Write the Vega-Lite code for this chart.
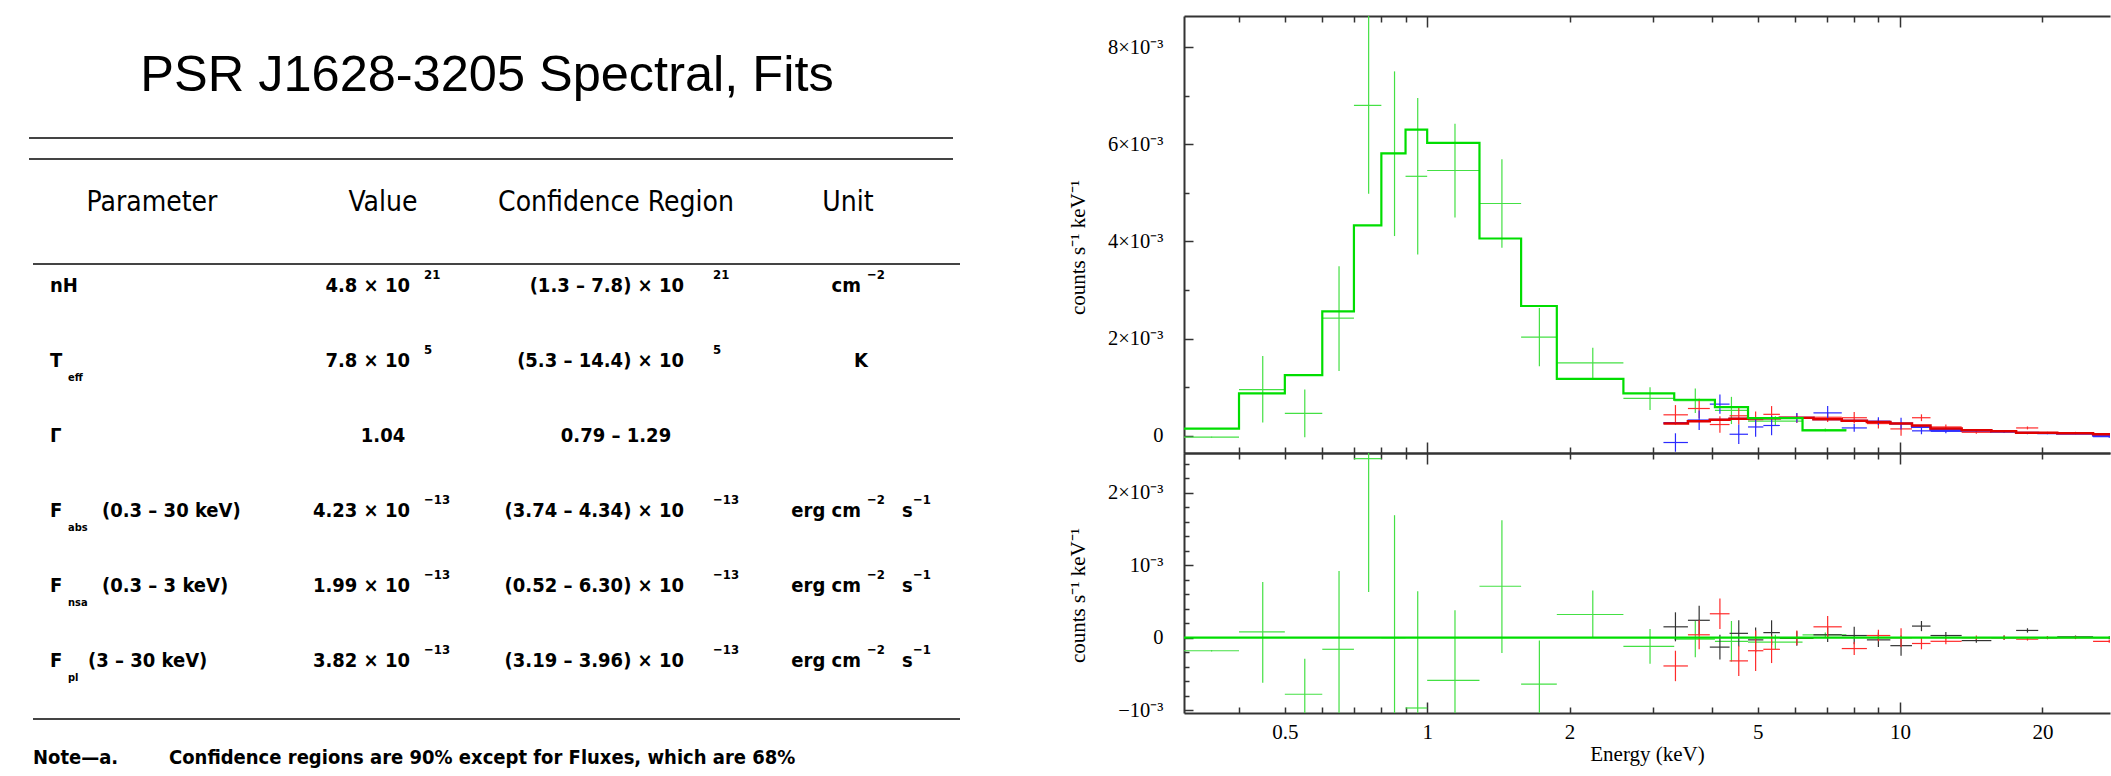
{
  "$schema": "https://vega.github.io/schema/vega-lite/v6.json",
  "background": "white",
  "padding": {"left": 0, "top": 15, "right": 0, "bottom": 0},
  "bounds": "flush",
  "spacing": 184,
  "config": {
    "view": {"stroke": null},
    "axis": {"grid": false, "labelFont": "Liberation Serif", "titleFont": "Liberation Serif", "labelColor": "#000", "titleColor": "#000", "labelFontSize": 20.5, "titleFontSize": 21, "titleFontWeight": "normal", "domainColor": "#333", "domainWidth": 2, "tickColor": "#333", "tickWidth": 1.5}
  },
  "datasets": {
    "cells": [
      {"row": 0, "col": 11, "kind": "title", "text": "PSR J1628-3205 Spectral, Fits"},
      {"row": 3, "col": 6, "kind": "header", "text": "Parameter"},
      {"row": 3, "col": 8, "kind": "header", "text": "Value"},
      {"row": 3, "col": 12, "kind": "header", "text": "Confidence Region"},
      {"row": 3, "col": 15, "kind": "header", "text": "Unit"},
      {"row": 5, "col": 2, "kind": "label", "text": "nH"},
      {"row": 5, "col": 9, "kind": "mantissa", "text": "4.8 × 10"},
      {"row": 5, "col": 10, "kind": "exponent", "text": "21"},
      {"row": 5, "col": 13, "kind": "mantissa", "text": "(1.3 – 7.8) × 10"},
      {"row": 5, "col": 14, "kind": "exponent", "text": "21"},
      {"row": 5, "col": 16, "kind": "mantissa", "text": "cm"},
      {"row": 5, "col": 17, "kind": "exponent", "text": "−2"},
      {"row": 6, "col": 2, "kind": "label", "text": "T"},
      {"row": 6, "col": 3, "kind": "subscript", "text": "eff"},
      {"row": 6, "col": 9, "kind": "mantissa", "text": "7.8 × 10"},
      {"row": 6, "col": 10, "kind": "exponent", "text": "5"},
      {"row": 6, "col": 13, "kind": "mantissa", "text": "(5.3 – 14.4) × 10"},
      {"row": 6, "col": 14, "kind": "exponent", "text": "5"},
      {"row": 6, "col": 16, "kind": "centered", "text": "K"},
      {"row": 7, "col": 2, "kind": "label", "text": "Γ"},
      {"row": 7, "col": 8, "kind": "centered", "text": "1.04"},
      {"row": 7, "col": 12, "kind": "centered", "text": "0.79 – 1.29"},
      {"row": 8, "col": 2, "kind": "label", "text": "F"},
      {"row": 8, "col": 3, "kind": "subscript", "text": "abs"},
      {"row": 8, "col": 5, "kind": "label", "text": "(0.3 – 30 keV)"},
      {"row": 8, "col": 9, "kind": "mantissa", "text": "4.23 × 10"},
      {"row": 8, "col": 10, "kind": "exponent", "text": "−13"},
      {"row": 8, "col": 13, "kind": "mantissa", "text": "(3.74 – 4.34) × 10"},
      {"row": 8, "col": 14, "kind": "exponent", "text": "−13"},
      {"row": 8, "col": 16, "kind": "mantissa", "text": "erg cm"},
      {"row": 8, "col": 17, "kind": "exponent", "text": "−2"},
      {"row": 8, "col": 18, "kind": "label", "text": "s"},
      {"row": 8, "col": 19, "kind": "exponent", "text": "−1"},
      {"row": 9, "col": 2, "kind": "label", "text": "F"},
      {"row": 9, "col": 3, "kind": "subscript", "text": "nsa"},
      {"row": 9, "col": 5, "kind": "label", "text": "(0.3 – 3 keV)"},
      {"row": 9, "col": 9, "kind": "mantissa", "text": "1.99 × 10"},
      {"row": 9, "col": 10, "kind": "exponent", "text": "−13"},
      {"row": 9, "col": 13, "kind": "mantissa", "text": "(0.52 – 6.30) × 10"},
      {"row": 9, "col": 14, "kind": "exponent", "text": "−13"},
      {"row": 9, "col": 16, "kind": "mantissa", "text": "erg cm"},
      {"row": 9, "col": 17, "kind": "exponent", "text": "−2"},
      {"row": 9, "col": 18, "kind": "label", "text": "s"},
      {"row": 9, "col": 19, "kind": "exponent", "text": "−1"},
      {"row": 10, "col": 2, "kind": "label", "text": "F"},
      {"row": 10, "col": 3, "kind": "subscript", "text": "pl"},
      {"row": 10, "col": 4, "kind": "label", "text": "(3 – 30 keV)"},
      {"row": 10, "col": 9, "kind": "mantissa", "text": "3.82 × 10"},
      {"row": 10, "col": 10, "kind": "exponent", "text": "−13"},
      {"row": 10, "col": 13, "kind": "mantissa", "text": "(3.19 – 3.96) × 10"},
      {"row": 10, "col": 14, "kind": "exponent", "text": "−13"},
      {"row": 10, "col": 16, "kind": "mantissa", "text": "erg cm"},
      {"row": 10, "col": 17, "kind": "exponent", "text": "−2"},
      {"row": 10, "col": 18, "kind": "label", "text": "s"},
      {"row": 10, "col": 19, "kind": "exponent", "text": "−1"},
      {"row": 12, "col": 1, "kind": "note", "text": "Note—a."},
      {"row": 12, "col": 7, "kind": "note", "text": "Confidence regions are 90% except for Fluxes, which are 68%"}
    ],
    "rules": [
      {"row": 1, "col": 0, "col2": 20},
      {"row": 2, "col": 0, "col2": 20},
      {"row": 4, "col": 1, "col2": 21},
      {"row": 11, "col": 1, "col2": 21}
    ],
    "green": [
      {"elo": 0.3, "ehi": 0.4, "e": 0.35, "v": -0.00003, "lo": -0.00004, "hi": -0.00002, "res": -0.00018, "rlo": -0.00019, "rhi": -0.00017},
      {"elo": 0.4, "ehi": 0.5, "e": 0.449, "v": 0.00095, "lo": 0.00027, "hi": 0.00164, "res": 0.00008, "rlo": -0.00062, "rhi": 0.00077},
      {"elo": 0.5, "ehi": 0.6, "e": 0.551, "v": 0.00046, "lo": -0.00003, "hi": 0.00095, "res": -0.00078, "rlo": -0.00127, "rhi": -0.00029},
      {"elo": 0.6, "ehi": 0.7, "e": 0.651, "v": 0.00242, "lo": 0.00133, "hi": 0.00349, "res": -0.00016, "rlo": -0.00124, "rhi": 0.00092},
      {"elo": 0.7, "ehi": 0.8, "e": 0.752, "v": 0.0068, "lo": 0.00498, "hi": 0.0087, "res": 0.00247, "rlo": 0.00063, "rhi": 0.0043},
      {"elo": 0.8, "ehi": 0.9, "e": 0.853, "v": 0.00581, "lo": 0.00411, "hi": 0.0075, "res": 0.0, "rlo": -0.0017, "rhi": 0.00169},
      {"elo": 0.9, "ehi": 1.0, "e": 0.955, "v": 0.00534, "lo": 0.00373, "hi": 0.00695, "res": -0.00097, "rlo": -0.00258, "rhi": 0.00064},
      {"elo": 1.0, "ehi": 1.29, "e": 1.145, "v": 0.00546, "lo": 0.00449, "hi": 0.00642, "res": -0.00059, "rlo": -0.00155, "rhi": 0.00038},
      {"elo": 1.29, "ehi": 1.58, "e": 1.439, "v": 0.00478, "lo": 0.00387, "hi": 0.00569, "res": 0.00071, "rlo": -0.00021, "rhi": 0.00162},
      {"elo": 1.58, "ehi": 1.88, "e": 1.727, "v": 0.00203, "lo": 0.00143, "hi": 0.00263, "res": -0.00064, "rlo": -0.00124, "rhi": -0.00004},
      {"elo": 1.88, "ehi": 2.6, "e": 2.24, "v": 0.0015, "lo": 0.00116, "hi": 0.00181, "res": 0.00032, "rlo": 0.0, "rhi": 0.00065},
      {"elo": 2.6, "ehi": 3.33, "e": 2.96, "v": 0.00077, "lo": 0.00053, "hi": 0.001, "res": -0.00012, "rlo": -0.00036, "rhi": 0.00012},
      {"elo": 3.33, "ehi": 4.06, "e": 3.69, "v": 0.00072, "lo": 0.00047, "hi": 0.00097, "res": -0.00002, "rlo": -0.00027, "rhi": 0.00023},
      {"elo": 4.06, "ehi": 4.77, "e": 4.4, "v": 0.00052, "lo": 0.00024, "hi": 0.0008, "res": -0.00005, "rlo": -0.00033, "rhi": 0.00023},
      {"elo": 4.77, "ehi": 6.22, "e": 5.45, "v": 0.0003, "lo": 0.0002, "hi": 0.0004, "res": -0.00006, "rlo": -0.00016, "rhi": 0.00004},
      {"elo": 6.22, "ehi": 7.7, "e": 6.95, "v": 0.00012, "lo": 0.00009, "hi": 0.00015, "res": 0.00004, "rlo": 0.00001, "rhi": 0.00007}
    ],
    "gmodel": [
      {"e": 0.3, "m": 0.000144}, {"e": 0.4, "m": 0.000872}, {"e": 0.5, "m": 0.001249}, {"e": 0.6, "m": 0.00256},
      {"e": 0.7, "m": 0.00433}, {"e": 0.8, "m": 0.00581}, {"e": 0.9, "m": 0.0063}, {"e": 1.0, "m": 0.00603},
      {"e": 1.29, "m": 0.00406}, {"e": 1.58, "m": 0.00267}, {"e": 1.88, "m": 0.00117}, {"e": 2.6, "m": 0.00087},
      {"e": 3.33, "m": 0.00074}, {"e": 4.06, "m": 0.00059}, {"e": 4.77, "m": 0.00036}, {"e": 6.22, "m": 0.00011},
      {"e": 7.7, "m": 0.00011}
    ],
    "hard": [
      {"set": "A", "elo": 3.16, "ehi": 3.56, "e": 3.35, "v": 0.00043, "lo": 0.00023, "hi": 0.00063, "res": 0.00015, "rlo": -0.00005, "rhi": 0.00035},
      {"set": "A", "elo": 3.56, "ehi": 3.96, "e": 3.76, "v": 0.00056, "lo": 0.00036, "hi": 0.00076, "res": 0.00024, "rlo": 0.00004, "rhi": 0.00044},
      {"set": "A", "elo": 3.96, "ehi": 4.36, "e": 4.16, "v": 0.00023, "lo": 0.00006, "hi": 0.0004, "res": -0.00013, "rlo": -0.0003, "rhi": 0.00004},
      {"set": "A", "elo": 4.36, "ehi": 4.77, "e": 4.56, "v": 0.00041, "lo": 0.00023, "hi": 0.00059, "res": 0.00006, "rlo": -0.00012, "rhi": 0.00024},
      {"set": "A", "elo": 4.77, "ehi": 5.14, "e": 4.95, "v": 0.00033, "lo": 0.00016, "hi": 0.0005, "res": -0.00003, "rlo": -0.0002, "rhi": 0.00014},
      {"set": "A", "elo": 5.14, "ehi": 5.57, "e": 5.35, "v": 0.00044, "lo": 0.00027, "hi": 0.00061, "res": 0.00007, "rlo": -0.0001, "rhi": 0.00024},
      {"set": "A", "elo": 5.57, "ehi": 6.56, "e": 6.05, "v": 0.00036, "lo": 0.00026, "hi": 0.00046, "res": -0.00001, "rlo": -0.00011, "rhi": 0.00009},
      {"set": "A", "elo": 6.56, "ehi": 7.53, "e": 7.03, "v": 0.00038, "lo": 0.00028, "hi": 0.00048, "res": 0.00004, "rlo": -0.00006, "rhi": 0.00014},
      {"set": "A", "elo": 7.53, "ehi": 8.51, "e": 8.0, "v": 0.00037, "lo": 0.00025, "hi": 0.00049, "res": 0.00003, "rlo": -0.00009, "rhi": 0.00015},
      {"set": "A", "elo": 8.51, "ehi": 9.54, "e": 9.0, "v": 0.00025, "lo": 0.00015, "hi": 0.00035, "res": -0.00003, "rlo": -0.00013, "rhi": 0.00007},
      {"set": "A", "elo": 9.54, "ehi": 10.6, "e": 10.05, "v": 0.00014, "lo": 0.0, "hi": 0.00028, "res": -0.00011, "rlo": -0.00025, "rhi": 0.00003},
      {"set": "A", "elo": 10.6, "ehi": 11.6, "e": 11.1, "v": 0.00037, "lo": 0.0003, "hi": 0.00044, "res": 0.00016, "rlo": 0.00009, "rhi": 0.00023},
      {"set": "A", "elo": 11.6, "ehi": 13.5, "e": 12.5, "v": 0.00018, "lo": 0.00013, "hi": 0.00023, "res": 0.00003, "rlo": -0.00002, "rhi": 0.00008},
      {"set": "A", "elo": 13.5, "ehi": 15.6, "e": 14.5, "v": 0.00007, "lo": 0.00004, "hi": 0.0001, "res": -0.00004, "rlo": -0.00007, "rhi": -0.00001},
      {"set": "A", "elo": 15.6, "ehi": 17.6, "e": 16.6, "v": 0.00009, "lo": 0.00006, "hi": 0.00012, "res": 0.0, "rlo": -0.00003, "rhi": 0.00003},
      {"set": "A", "elo": 17.6, "ehi": 19.6, "e": 18.6, "v": 0.00016, "lo": 0.00013, "hi": 0.00019, "res": 0.0001, "rlo": 0.00007, "rhi": 0.00013},
      {"set": "A", "elo": 19.6, "ehi": 21.5, "e": 20.5, "v": 0.00006, "lo": 0.00004, "hi": 0.00008, "res": 0.0, "rlo": -0.00002, "rhi": 0.00002},
      {"set": "A", "elo": 21.5, "ehi": 25.6, "e": 23.5, "v": 0.00006, "lo": 0.00004, "hi": 0.00008, "res": 0.00001, "rlo": -0.00001, "rhi": 0.00003},
      {"set": "A", "elo": 25.6, "ehi": 30, "e": 27.7, "v": 0.00003, "lo": 0.00001, "hi": 0.00005, "res": 0.0, "rlo": -0.00002, "rhi": 0.00002},
      {"set": "B", "elo": 3.16, "ehi": 3.56, "e": 3.35, "v": -0.00014, "lo": -0.00033, "hi": 0.00005, "res": -0.00039, "rlo": -0.0006, "rhi": -0.00018},
      {"set": "B", "elo": 3.56, "ehi": 3.96, "e": 3.76, "v": 0.00032, "lo": 0.00012, "hi": 0.00052, "res": 0.00004, "rlo": -0.00016, "rhi": 0.00024},
      {"set": "B", "elo": 3.96, "ehi": 4.36, "e": 4.16, "v": 0.00065, "lo": 0.00045, "hi": 0.00085, "res": 0.00033, "rlo": 0.00012, "rhi": 0.00054},
      {"set": "B", "elo": 4.36, "ehi": 4.77, "e": 4.56, "v": 0.00003, "lo": -0.00017, "hi": 0.00023, "res": -0.00032, "rlo": -0.00053, "rhi": -0.00011},
      {"set": "B", "elo": 4.77, "ehi": 5.14, "e": 4.95, "v": 0.00018, "lo": -0.00002, "hi": 0.00038, "res": -0.00018, "rlo": -0.00046, "rhi": 0.0001},
      {"set": "B", "elo": 5.14, "ehi": 5.57, "e": 5.35, "v": 0.00021, "lo": 0.00001, "hi": 0.00041, "res": -0.00016, "rlo": -0.00035, "rhi": 0.00003},
      {"set": "B", "elo": 5.57, "ehi": 6.56, "e": 6.05, "v": 0.00037, "lo": 0.00027, "hi": 0.00047, "res": 0.0, "rlo": -0.0001, "rhi": 0.0001},
      {"set": "B", "elo": 6.56, "ehi": 7.53, "e": 7.03, "v": 0.00047, "lo": 0.00033, "hi": 0.00061, "res": 0.00015, "rlo": 0.0, "rhi": 0.0003},
      {"set": "B", "elo": 7.53, "ehi": 8.51, "e": 8.0, "v": 0.00016, "lo": 0.00008, "hi": 0.00024, "res": -0.00015, "rlo": -0.00024, "rhi": -0.00006},
      {"set": "B", "elo": 8.51, "ehi": 9.54, "e": 9.0, "v": 0.0003, "lo": 0.00022, "hi": 0.00038, "res": 0.00003, "rlo": -0.00005, "rhi": 0.00011},
      {"set": "B", "elo": 9.54, "ehi": 10.6, "e": 10.05, "v": 0.00025, "lo": 0.00013, "hi": 0.00037, "res": 0.0, "rlo": -0.00013, "rhi": 0.00013},
      {"set": "B", "elo": 10.6, "ehi": 11.6, "e": 11.1, "v": 0.0001, "lo": 0.00003, "hi": 0.00017, "res": -0.00008, "rlo": -0.00016, "rhi": 0.0},
      {"set": "B", "elo": 11.6, "ehi": 13.5, "e": 12.5, "v": 0.00009, "lo": 0.00005, "hi": 0.00013, "res": -0.00005, "rlo": -0.00009, "rhi": -0.00001},
      {"set": "B", "elo": 13.5, "ehi": 15.6, "e": 14.5, "v": 0.00011, "lo": 0.00008, "hi": 0.00014, "res": 0.0, "rlo": -0.00003, "rhi": 0.00003},
      {"set": "B", "elo": 15.6, "ehi": 17.6, "e": 16.6, "v": 0.00009, "lo": 0.00006, "hi": 0.00012, "res": 0.0, "rlo": -0.00003, "rhi": 0.00003},
      {"set": "B", "elo": 17.6, "ehi": 19.6, "e": 18.6, "v": 0.00005, "lo": 0.00003, "hi": 0.00007, "res": -0.00002, "rlo": -0.00004, "rhi": 0.0},
      {"set": "B", "elo": 19.6, "ehi": 21.5, "e": 20.5, "v": 0.00005, "lo": 0.00003, "hi": 0.00007, "res": 0.0, "rlo": -0.00002, "rhi": 0.00002},
      {"set": "B", "elo": 21.5, "ehi": 25.6, "e": 23.5, "v": 0.00005, "lo": 0.00003, "hi": 0.00007, "res": 0.0, "rlo": -0.00002, "rhi": 0.00002},
      {"set": "B", "elo": 25.6, "ehi": 30, "e": 27.7, "v": -0.00002, "lo": -0.00004, "hi": 0.0, "res": -0.00005, "rlo": -0.00007, "rhi": -0.00003}
    ],
    "hmodel": [
      {"set": "A", "e": 3.16, "m": 0.00025}, {"set": "A", "e": 3.56, "m": 0.0003}, {"set": "A", "e": 3.96, "m": 0.00033}, {"set": "A", "e": 4.36, "m": 0.00035},
      {"set": "A", "e": 4.77, "m": 0.00036}, {"set": "A", "e": 5.14, "m": 0.00036}, {"set": "A", "e": 5.57, "m": 0.00037}, {"set": "A", "e": 6.56, "m": 0.00034},
      {"set": "A", "e": 7.53, "m": 0.00031}, {"set": "A", "e": 8.51, "m": 0.00028}, {"set": "A", "e": 9.54, "m": 0.00025}, {"set": "A", "e": 10.6, "m": 0.00021},
      {"set": "A", "e": 11.6, "m": 0.00015}, {"set": "A", "e": 13.5, "m": 0.00011}, {"set": "A", "e": 15.6, "m": 0.00009}, {"set": "A", "e": 17.6, "m": 0.00006},
      {"set": "A", "e": 19.6, "m": 0.00006}, {"set": "A", "e": 21.5, "m": 0.00005}, {"set": "A", "e": 25.6, "m": 0.00003}, {"set": "A", "e": 30, "m": 0.00003},
      {"set": "B", "e": 3.16, "m": 0.00026}, {"set": "B", "e": 3.56, "m": 0.00031}, {"set": "B", "e": 3.96, "m": 0.00033}, {"set": "B", "e": 4.36, "m": 0.00035},
      {"set": "B", "e": 4.77, "m": 0.00036}, {"set": "B", "e": 5.14, "m": 0.00036}, {"set": "B", "e": 5.57, "m": 0.00037}, {"set": "B", "e": 6.56, "m": 0.00034},
      {"set": "B", "e": 7.53, "m": 0.00031}, {"set": "B", "e": 8.51, "m": 0.00028}, {"set": "B", "e": 9.54, "m": 0.00025}, {"set": "B", "e": 10.6, "m": 0.00018},
      {"set": "B", "e": 11.6, "m": 0.00012}, {"set": "B", "e": 13.5, "m": 0.0001}, {"set": "B", "e": 15.6, "m": 0.00008}, {"set": "B", "e": 17.6, "m": 0.00006},
      {"set": "B", "e": 19.6, "m": 0.00005}, {"set": "B", "e": 21.5, "m": 0.00004}, {"set": "B", "e": 25.6, "m": 0.0}, {"set": "B", "e": 30, "m": 0.0}
    ]
  },
  "hconcat": [
    {
      "width": 1000,
      "height": 697,
      "layer": [
        {
          "data": {"name": "rules"},
          "mark": {"type": "rule", "color": "#444", "strokeWidth": 2},
          "encoding": {
            "x": {"field": "col", "type": "quantitative", "axis": null, "scale": {"domain": [0,1,2,3,4,5,6,7,8,9,10,11,12,13,14,15,16,17,18,19,20,21], "range": [29,33,50,68,88,102,152,169,383,410,424,487,616,684,713,848,861,867,902,913,953,960], "nice": false, "zero": false}},
            "x2": {"field": "col2"},
            "y": {"field": "row", "type": "quantitative", "axis": null, "scale": {"domain": [0,1,2,3,4,5,6,7,8,9,10,11,12], "range": [60,122,143,187,248,270,345,420,495,570,645,703,742], "nice": false, "zero": false}}
          }
        },
        {
          "data": {"name": "cells"},
          "transform": [{"filter": "datum.kind == 'title'"}],
          "mark": {"type": "text", "font": "Liberation Sans", "fontSize": 50.5, "align": "center", "baseline": "middle", "color": "#000"},
          "encoding": {
            "x": {"field": "col", "type": "quantitative", "axis": null, "scale": {"domain": [0,1,2,3,4,5,6,7,8,9,10,11,12,13,14,15,16,17,18,19,20,21], "range": [29,33,50,68,88,102,152,169,383,410,424,487,616,684,713,848,861,867,902,913,953,960], "nice": false, "zero": false}},
            "y": {"field": "row", "type": "quantitative", "axis": null, "scale": {"domain": [0,1,2,3,4,5,6,7,8,9,10,11,12], "range": [60,122,143,187,248,270,345,420,495,570,645,703,742], "nice": false, "zero": false}},
            "text": {"field": "text"}
          }
        },
        {
          "data": {"name": "cells"},
          "transform": [{"filter": "datum.kind == 'header'"}],
          "mark": {"type": "text", "font": "DejaVu Sans Condensed, DejaVu Sans", "fontSize": 28, "align": "center", "baseline": "middle", "color": "#000"},
          "encoding": {
            "x": {"field": "col", "type": "quantitative", "axis": null, "scale": {"domain": [0,1,2,3,4,5,6,7,8,9,10,11,12,13,14,15,16,17,18,19,20,21], "range": [29,33,50,68,88,102,152,169,383,410,424,487,616,684,713,848,861,867,902,913,953,960], "nice": false, "zero": false}},
            "y": {"field": "row", "type": "quantitative", "axis": null, "scale": {"domain": [0,1,2,3,4,5,6,7,8,9,10,11,12], "range": [60,122,143,187,248,270,345,420,495,570,645,703,742], "nice": false, "zero": false}},
            "text": {"field": "text"}
          }
        },
        {
          "data": {"name": "cells"},
          "transform": [{"filter": "datum.kind == 'label' || datum.kind == 'note'"}],
          "mark": {"type": "text", "font": "DejaVu Sans Condensed, DejaVu Sans", "fontWeight": "bold", "fontSize": 20, "align": "left", "baseline": "middle", "color": "#000"},
          "encoding": {
            "x": {"field": "col", "type": "quantitative", "axis": null, "scale": {"domain": [0,1,2,3,4,5,6,7,8,9,10,11,12,13,14,15,16,17,18,19,20,21], "range": [29,33,50,68,88,102,152,169,383,410,424,487,616,684,713,848,861,867,902,913,953,960], "nice": false, "zero": false}},
            "y": {"field": "row", "type": "quantitative", "axis": null, "scale": {"domain": [0,1,2,3,4,5,6,7,8,9,10,11,12], "range": [60,122,143,187,248,270,345,420,495,570,645,703,742], "nice": false, "zero": false}},
            "text": {"field": "text"}
          }
        },
        {
          "data": {"name": "cells"},
          "transform": [{"filter": "datum.kind == 'mantissa'"}],
          "mark": {"type": "text", "font": "DejaVu Sans Condensed, DejaVu Sans", "fontWeight": "bold", "fontSize": 20, "align": "right", "baseline": "middle", "color": "#000"},
          "encoding": {
            "x": {"field": "col", "type": "quantitative", "axis": null, "scale": {"domain": [0,1,2,3,4,5,6,7,8,9,10,11,12,13,14,15,16,17,18,19,20,21], "range": [29,33,50,68,88,102,152,169,383,410,424,487,616,684,713,848,861,867,902,913,953,960], "nice": false, "zero": false}},
            "y": {"field": "row", "type": "quantitative", "axis": null, "scale": {"domain": [0,1,2,3,4,5,6,7,8,9,10,11,12], "range": [60,122,143,187,248,270,345,420,495,570,645,703,742], "nice": false, "zero": false}},
            "text": {"field": "text"}
          }
        },
        {
          "data": {"name": "cells"},
          "transform": [{"filter": "datum.kind == 'centered'"}],
          "mark": {"type": "text", "font": "DejaVu Sans Condensed, DejaVu Sans", "fontWeight": "bold", "fontSize": 20, "align": "center", "baseline": "middle", "color": "#000"},
          "encoding": {
            "x": {"field": "col", "type": "quantitative", "axis": null, "scale": {"domain": [0,1,2,3,4,5,6,7,8,9,10,11,12,13,14,15,16,17,18,19,20,21], "range": [29,33,50,68,88,102,152,169,383,410,424,487,616,684,713,848,861,867,902,913,953,960], "nice": false, "zero": false}},
            "y": {"field": "row", "type": "quantitative", "axis": null, "scale": {"domain": [0,1,2,3,4,5,6,7,8,9,10,11,12], "range": [60,122,143,187,248,270,345,420,495,570,645,703,742], "nice": false, "zero": false}},
            "text": {"field": "text"}
          }
        },
        {
          "data": {"name": "cells"},
          "transform": [{"filter": "datum.kind == 'exponent'"}],
          "mark": {"type": "text", "font": "DejaVu Sans Condensed, DejaVu Sans", "fontWeight": "bold", "fontSize": 13, "align": "left", "baseline": "middle", "dy": -11, "color": "#000"},
          "encoding": {
            "x": {"field": "col", "type": "quantitative", "axis": null, "scale": {"domain": [0,1,2,3,4,5,6,7,8,9,10,11,12,13,14,15,16,17,18,19,20,21], "range": [29,33,50,68,88,102,152,169,383,410,424,487,616,684,713,848,861,867,902,913,953,960], "nice": false, "zero": false}},
            "y": {"field": "row", "type": "quantitative", "axis": null, "scale": {"domain": [0,1,2,3,4,5,6,7,8,9,10,11,12], "range": [60,122,143,187,248,270,345,420,495,570,645,703,742], "nice": false, "zero": false}},
            "text": {"field": "text"}
          }
        },
        {
          "data": {"name": "cells"},
          "transform": [{"filter": "datum.kind == 'subscript'"}],
          "mark": {"type": "text", "font": "DejaVu Sans Condensed, DejaVu Sans", "fontWeight": "bold", "fontSize": 11, "align": "left", "baseline": "middle", "dy": 17, "color": "#000"},
          "encoding": {
            "x": {"field": "col", "type": "quantitative", "axis": null, "scale": {"domain": [0,1,2,3,4,5,6,7,8,9,10,11,12,13,14,15,16,17,18,19,20,21], "range": [29,33,50,68,88,102,152,169,383,410,424,487,616,684,713,848,861,867,902,913,953,960], "nice": false, "zero": false}},
            "y": {"field": "row", "type": "quantitative", "axis": null, "scale": {"domain": [0,1,2,3,4,5,6,7,8,9,10,11,12], "range": [60,122,143,187,248,270,345,420,495,570,645,703,742], "nice": false, "zero": false}},
            "text": {"field": "text"}
          }
        }
      ]
    },
    {
      "vconcat": [
        {
          "width": 926,
          "height": 437,
          "resolve": {"axis": {"x": "independent", "y": "independent"}},
          "layer": [
            {
              "data": {"name": "green"},
              "mark": {"type": "rule", "color": "#44e044", "strokeWidth": 1.2, "clip": true},
              "encoding": {
                "x": {"field": "elo", "type": "quantitative", "scale": {"type": "log", "domain": [0.306, 27.8], "nice": false},
                  "axis": {"orient": "bottom", "values": [0.4,0.5,0.6,0.7,0.8,0.9,1,2,3,4,5,6,7,8,9,10,20], "labels": false, "title": null, "domain": true, "ticks": true, "tickSize": {"condition": {"test": "datum.value == 1 || datum.value == 10", "value": -11}, "value": -6}}},
                "x2": {"field": "ehi"},
                "y": {"field": "v", "type": "quantitative", "scale": {"domain": [-0.000356, 0.00864], "nice": false, "zero": false},
                  "axis": {"orient": "left", "values": [0,0.001,0.002,0.003,0.004,0.005,0.006,0.007,0.008], "domain": true,
                    "tickSize": {"condition": {"test": "round(datum.value*1000) % 2 == 0", "value": -9}, "value": -5},
                    "labelExpr": "round(datum.value*1000) % 2 != 0 ? '' : (round(datum.value*1000) == 0 ? '0' : round(datum.value*1000) + '×10⁻³')",
                    "labelPadding": 30, "labelAlign": "right", "labelBaseline": "middle",
                    "title": "counts s⁻¹ keV⁻¹", "titleX": -106, "titleY": 231, "titleAlign": "center", "titleBaseline": "middle", "titleAngle": 270}}
              }
            },
            {
              "data": {"name": "green"},
              "mark": {"type": "rule", "color": "#44e044", "strokeWidth": 1.2, "clip": true},
              "encoding": {
                "x": {"field": "e", "type": "quantitative", "scale": {"type": "log", "domain": [0.306, 27.8], "nice": false},
                  "axis": {"orient": "top", "values": [0.4,0.5,0.6,0.7,0.8,0.9,1,2,3,4,5,6,7,8,9,10,20], "labels": false, "title": null, "domain": true, "ticks": true, "tickSize": {"condition": {"test": "datum.value == 1 || datum.value == 10", "value": -11}, "value": -6}}},
                "y": {"field": "lo", "type": "quantitative", "scale": {"domain": [-0.000356, 0.00864], "nice": false, "zero": false}, "axis": null},
                "y2": {"field": "hi"}
              }
            },
            {
              "data": {"name": "hard"},
              "transform": [{"filter": "datum.set == 'A'"}],
              "mark": {"type": "rule", "color": "#ff2a2a", "strokeWidth": 1.2, "clip": true},
              "encoding": {
                "x": {"field": "elo", "type": "quantitative", "scale": {"type": "log", "domain": [0.306, 27.8], "nice": false}, "axis": null},
                "x2": {"field": "ehi"},
                "y": {"field": "v", "type": "quantitative", "scale": {"domain": [-0.000356, 0.00864], "nice": false, "zero": false}, "axis": null}
              }
            },
            {
              "data": {"name": "hard"},
              "transform": [{"filter": "datum.set == 'A'"}],
              "mark": {"type": "rule", "color": "#ff2a2a", "strokeWidth": 1.2, "clip": true},
              "encoding": {
                "x": {"field": "e", "type": "quantitative", "scale": {"type": "log", "domain": [0.306, 27.8], "nice": false}, "axis": null},
                "y": {"field": "lo", "type": "quantitative", "scale": {"domain": [-0.000356, 0.00864], "nice": false, "zero": false}, "axis": null},
                "y2": {"field": "hi"}
              }
            },
            {
              "data": {"name": "hard"},
              "transform": [{"filter": "datum.set == 'B'"}],
              "mark": {"type": "rule", "color": "#2a2aff", "strokeWidth": 1.2, "clip": true},
              "encoding": {
                "x": {"field": "elo", "type": "quantitative", "scale": {"type": "log", "domain": [0.306, 27.8], "nice": false}, "axis": null},
                "x2": {"field": "ehi"},
                "y": {"field": "v", "type": "quantitative", "scale": {"domain": [-0.000356, 0.00864], "nice": false, "zero": false}, "axis": null}
              }
            },
            {
              "data": {"name": "hard"},
              "transform": [{"filter": "datum.set == 'B'"}],
              "mark": {"type": "rule", "color": "#2a2aff", "strokeWidth": 1.2, "clip": true},
              "encoding": {
                "x": {"field": "e", "type": "quantitative", "scale": {"type": "log", "domain": [0.306, 27.8], "nice": false}, "axis": null},
                "y": {"field": "lo", "type": "quantitative", "scale": {"domain": [-0.000356, 0.00864], "nice": false, "zero": false}, "axis": null},
                "y2": {"field": "hi"}
              }
            },
            {
              "data": {"name": "hmodel"},
              "transform": [{"filter": "datum.set == 'B'"}],
              "mark": {"type": "line", "interpolate": "step-after", "color": "#3030ff", "strokeWidth": 2, "clip": true},
              "encoding": {
                "x": {"field": "e", "type": "quantitative", "scale": {"type": "log", "domain": [0.306, 27.8], "nice": false}, "axis": null},
                "y": {"field": "m", "type": "quantitative", "scale": {"domain": [-0.000356, 0.00864], "nice": false, "zero": false}, "axis": null}
              }
            },
            {
              "data": {"name": "hmodel"},
              "transform": [{"filter": "datum.set == 'A'"}],
              "mark": {"type": "line", "interpolate": "step-after", "color": "#e00000", "strokeWidth": 2.5, "clip": true},
              "encoding": {
                "x": {"field": "e", "type": "quantitative", "scale": {"type": "log", "domain": [0.306, 27.8], "nice": false}, "axis": null},
                "y": {"field": "m", "type": "quantitative", "scale": {"domain": [-0.000356, 0.00864], "nice": false, "zero": false}, "axis": null}
              }
            },
            {
              "data": {"name": "gmodel"},
              "mark": {"type": "line", "interpolate": "step-after", "color": "#00dd00", "strokeWidth": 2.2, "clip": true},
              "encoding": {
                "x": {"field": "e", "type": "quantitative", "scale": {"type": "log", "domain": [0.306, 27.8], "nice": false}, "axis": null},
                "y": {"field": "m", "type": "quantitative", "scale": {"domain": [-0.000356, 0.00864], "nice": false, "zero": false}, "axis": null}
              }
            }
          ]
        },
        {
          "width": 926,
          "height": 260,
          "resolve": {"axis": {"x": "independent", "y": "independent"}},
          "layer": [
            {
              "data": {"name": "green"},
              "mark": {"type": "rule", "color": "#44e044", "strokeWidth": 1.2, "clip": true},
              "encoding": {
                "x": {"field": "elo", "type": "quantitative", "scale": {"type": "log", "domain": [0.306, 27.8], "nice": false},
                  "axis": {"orient": "bottom", "values": [0.5,1,2,5,10,20], "labelExpr": "'' + datum.value", "ticks": false, "tickSize": 0, "domain": false, "labelPadding": 8, "labelFontSize": 21, "labelBaseline": "top",
                    "title": "Energy (keV)", "titleFontSize": 21, "titleY": 41, "titleBaseline": "middle"}},
                "x2": {"field": "ehi"},
                "y": {"field": "res", "type": "quantitative", "scale": {"domain": [-0.001039, 0.002548], "nice": false, "zero": false},
                  "axis": {"orient": "left", "values": [-0.001,-0.0008,-0.0006,-0.0004,-0.0002,0,0.0002,0.0004,0.0006,0.0008,0.001,0.0012,0.0014,0.0016,0.0018,0.002,0.0022,0.0024], "domain": true,
                    "tickSize": {"condition": {"test": "abs(datum.value*1000 - round(datum.value*1000)) < 0.01", "value": -9}, "value": -5},
                    "labelExpr": "abs(datum.value*1000 - round(datum.value*1000)) > 0.01 ? '' : (round(datum.value*1000) == 0 ? '0' : (round(datum.value*1000) == 1 ? '10⁻³' : (round(datum.value*1000) == -1 ? '−10⁻³' : round(datum.value*1000) + '×10⁻³')))",
                    "labelPadding": 30, "labelAlign": "right", "labelBaseline": "middle",
                    "title": "counts s⁻¹ keV⁻¹", "titleX": -106, "titleY": 142, "titleAlign": "center", "titleBaseline": "middle", "titleAngle": 270}}
              }
            },
            {
              "data": {"name": "green"},
              "mark": {"type": "rule", "color": "#44e044", "strokeWidth": 1.2, "clip": true},
              "encoding": {
                "x": {"field": "e", "type": "quantitative", "scale": {"type": "log", "domain": [0.306, 27.8], "nice": false},
                  "axis": {"orient": "bottom", "values": [0.4,0.5,0.6,0.7,0.8,0.9,1,2,3,4,5,6,7,8,9,10,20], "labels": false, "title": null, "domain": true, "ticks": true, "tickSize": {"condition": {"test": "datum.value == 1 || datum.value == 10", "value": -11}, "value": -6}}},
                "y": {"field": "rlo", "type": "quantitative", "scale": {"domain": [-0.001039, 0.002548], "nice": false, "zero": false}, "axis": null},
                "y2": {"field": "rhi"}
              }
            },
            {
              "data": {"name": "hard"},
              "transform": [{"filter": "datum.set == 'A'"}],
              "mark": {"type": "rule", "color": "#333333", "strokeWidth": 1.2, "clip": true},
              "encoding": {
                "x": {"field": "elo", "type": "quantitative", "scale": {"type": "log", "domain": [0.306, 27.8], "nice": false},
                  "axis": {"orient": "top", "values": [0.4,0.5,0.6,0.7,0.8,0.9,1,2,3,4,5,6,7,8,9,10,20], "labels": false, "title": null, "domain": true, "ticks": true, "tickSize": {"condition": {"test": "datum.value == 1 || datum.value == 10", "value": -11}, "value": -6}}},
                "x2": {"field": "ehi"},
                "y": {"field": "res", "type": "quantitative", "scale": {"domain": [-0.001039, 0.002548], "nice": false, "zero": false}, "axis": null}
              }
            },
            {
              "data": {"name": "hard"},
              "transform": [{"filter": "datum.set == 'A'"}],
              "mark": {"type": "rule", "color": "#333333", "strokeWidth": 1.2, "clip": true},
              "encoding": {
                "x": {"field": "e", "type": "quantitative", "scale": {"type": "log", "domain": [0.306, 27.8], "nice": false}, "axis": null},
                "y": {"field": "rlo", "type": "quantitative", "scale": {"domain": [-0.001039, 0.002548], "nice": false, "zero": false}, "axis": null},
                "y2": {"field": "rhi"}
              }
            },
            {
              "data": {"name": "hard"},
              "transform": [{"filter": "datum.set == 'B'"}],
              "mark": {"type": "rule", "color": "#ff2a2a", "strokeWidth": 1.2, "clip": true},
              "encoding": {
                "x": {"field": "elo", "type": "quantitative", "scale": {"type": "log", "domain": [0.306, 27.8], "nice": false}, "axis": null},
                "x2": {"field": "ehi"},
                "y": {"field": "res", "type": "quantitative", "scale": {"domain": [-0.001039, 0.002548], "nice": false, "zero": false}, "axis": null}
              }
            },
            {
              "data": {"name": "hard"},
              "transform": [{"filter": "datum.set == 'B'"}],
              "mark": {"type": "rule", "color": "#ff2a2a", "strokeWidth": 1.2, "clip": true},
              "encoding": {
                "x": {"field": "e", "type": "quantitative", "scale": {"type": "log", "domain": [0.306, 27.8], "nice": false}, "axis": null},
                "y": {"field": "rlo", "type": "quantitative", "scale": {"domain": [-0.001039, 0.002548], "nice": false, "zero": false}, "axis": null},
                "y2": {"field": "rhi"}
              }
            },
            {
              "data": {"values": [{"zero": 0}]},
              "mark": {"type": "rule", "color": "#00dd00", "strokeWidth": 2.2},
              "encoding": {
                "y": {"field": "zero", "type": "quantitative", "scale": {"domain": [-0.001039, 0.002548], "nice": false, "zero": false}, "axis": null}
              }
            }
          ]
        }
      ],
      "spacing": 0,
      "bounds": "flush"
    }
  ]
}
